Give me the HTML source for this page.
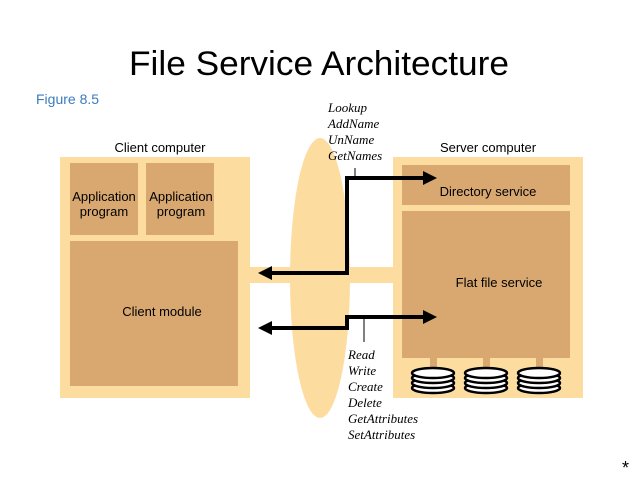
<!DOCTYPE html><html><head><style>body{margin:0;background:#fff}</style></head><body>
<svg width="638" height="479" xmlns="http://www.w3.org/2000/svg" font-family="Liberation Sans, sans-serif">
<text x="319" y="75" text-anchor="middle" font-size="34" fill="#000" textLength="380" lengthAdjust="spacingAndGlyphs">File Service Architecture</text>
<text x="36" y="104" font-size="14" fill="#3b7bbf">Figure 8.5</text>
<text x="160" y="152" text-anchor="middle" font-size="13">Client computer</text>
<text x="488" y="152" text-anchor="middle" font-size="13">Server computer</text>
<ellipse cx="320" cy="278" rx="30" ry="140" fill="#fddca0"/>
<rect x="240" y="267" width="160" height="16" fill="#fddca0"/>
<rect x="60" y="157" width="190" height="241" fill="#fddca0"/>
<rect x="393" y="157" width="190" height="241" fill="#fddca0"/>
<rect x="70" y="163" width="68" height="72" fill="#d8a870"/>
<rect x="146" y="163" width="68" height="72" fill="#d8a870"/>
<rect x="70" y="241" width="168" height="145" fill="#d8a870"/>
<rect x="402" y="165" width="168" height="40" fill="#d8a870"/>
<rect x="402" y="211" width="168" height="147" fill="#d8a870"/>
<g font-size="13" text-anchor="middle">
<text x="104" y="201">Application</text><text x="104" y="216">program</text>
<text x="181" y="201">Application</text><text x="181" y="216">program</text>
<text x="162" y="316">Client module</text>
<text x="488" y="196">Directory service</text>
<text x="499" y="287">Flat file service</text>
</g>
<g fill="#d8a870"><rect x="430" y="355" width="7" height="18"/><rect x="483" y="355" width="7" height="18"/><rect x="536" y="355" width="7" height="18"/></g>
<g stroke="#000" stroke-width="2.5" fill="#fff">
<g id="d"><ellipse cx="433" cy="388" rx="21" ry="5"/><ellipse cx="433" cy="383" rx="21" ry="5"/><ellipse cx="433" cy="378" rx="21" ry="5"/><ellipse cx="433" cy="373" rx="21" ry="5"/></g>
<use href="#d" x="53"/><use href="#d" x="106"/>
</g>
<g stroke="#000" fill="none">
<polyline points="270,273 347,273 347,178 425,178" stroke-width="4"/>
<polyline points="270,328 347,328 347,317 425,317" stroke-width="4"/>
<line x1="355" y1="168" x2="355" y2="178" stroke-width="1"/>
<line x1="364" y1="317" x2="364" y2="342" stroke-width="1"/>
</g>
<g fill="#000">
<polygon points="437,178 423,171 423,185"/>
<polygon points="437,317 423,310 423,324"/>
<polygon points="258,273 272,266 272,280"/>
<polygon points="258,328 272,321 272,335"/>
</g>
<g font-family="Liberation Serif, serif" font-style="italic" font-size="13">
<text x="328" y="112">Lookup</text><text x="328" y="128">AddName</text><text x="328" y="144">UnName</text><text x="328" y="160">GetNames</text>
<text x="348" y="359">Read</text><text x="348" y="375">Write</text><text x="348" y="391">Create</text><text x="348" y="407">Delete</text><text x="348" y="423">GetAttributes</text><text x="348" y="439">SetAttributes</text>
</g>
<text x="622" y="474" font-size="18">*</text>
</svg></body></html>
